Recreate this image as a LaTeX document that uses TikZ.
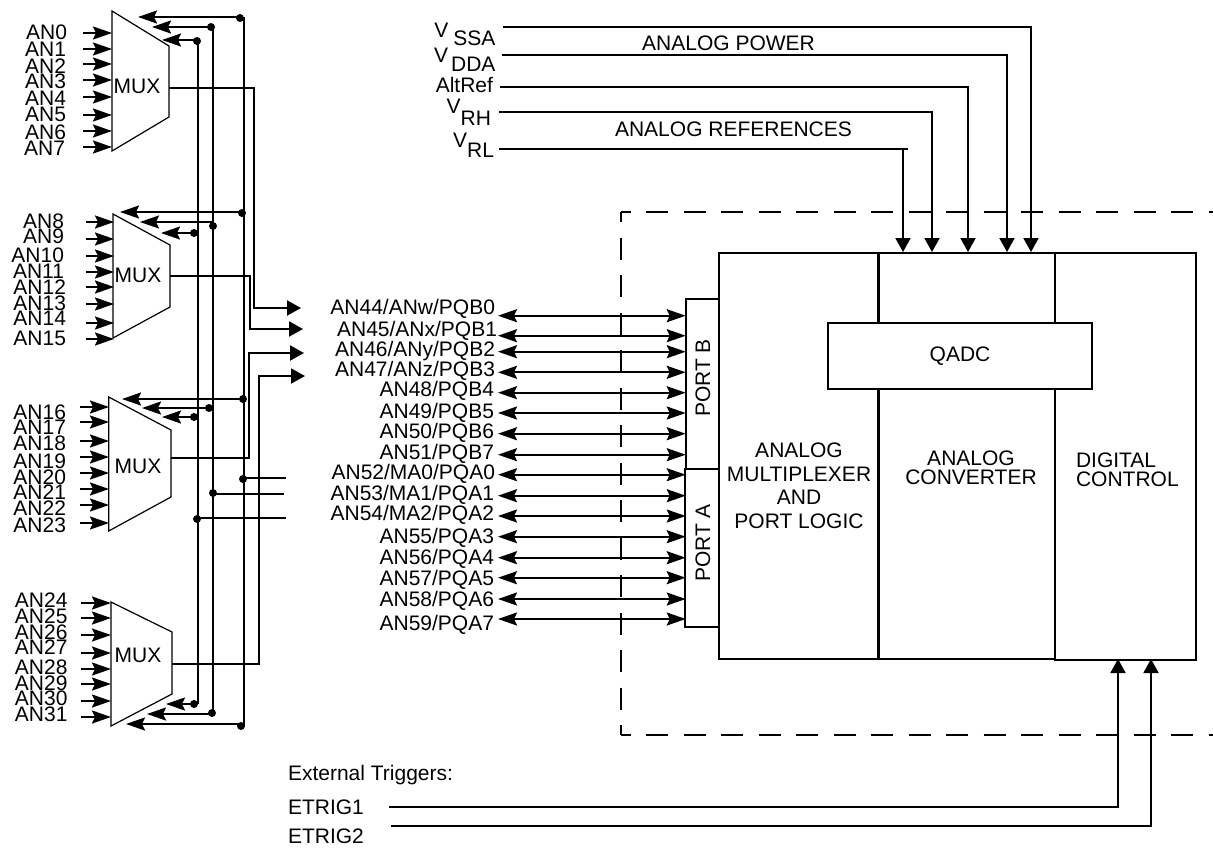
\documentclass[tikz,border=0pt]{standalone}
\usepackage{fontspec}
\setmainfont{Liberation Sans}
\usetikzlibrary{arrows.meta}
\tikzset{
  wire/.style={line width=2pt},
  arr/.style={wire,-{Triangle[length=14pt,width=15pt]}},
  sarr/.style={wire,-{Stealth[length=19pt,width=13pt,inset=3pt]}},
  barr/.style={wire,{Stealth[length=19pt,width=13pt,inset=3pt]}-{Stealth[length=19pt,width=13pt,inset=3pt]}},
  box/.style={draw,line width=2pt,fill=white,outer sep=0pt,inner sep=0pt,anchor=north west},
  lab/.style={inner sep=0pt,outer sep=0pt,font=\fontsize{21}{23.5}\selectfont},
  dot/.style={circle,fill=black,inner sep=0pt,minimum size=8pt},
  mux/.style={draw,line width=1.2pt,fill=white},
  dashline/.style={line width=2pt,dash pattern=on 22pt off 15.5pt},
}
\begin{document}
\begin{tikzpicture}[x=1pt,y=-1pt]
\useasboundingbox (0,0) rectangle (1213,847);
% dashed outline
\coordinate (dtl) at (620.5,212); \coordinate (dtr) at (1213,212);
\coordinate (dbl) at (620.5,735); \coordinate (dbr) at (1213,735);
\draw[dashline,dash phase=12pt] (dtl) -- (dtr);
\draw[dashline,dash phase=12pt] (dtl) -- (dbl);
\draw[dashline,dash phase=12pt] (dbl) -- (dbr);
% mux shapes
\draw[mux] (112,11) -- (169,46) -- (169,117) -- (112,151) -- cycle;
\draw[mux] (113,214) -- (170,245) -- (170,307) -- (113,338) -- cycle;
\draw[mux] (108.7,397) -- (171,430) -- (171,497) -- (108.7,531) -- cycle;
\draw[mux] (111,602) -- (172,632) -- (172,694) -- (111,726) -- cycle;
\node[lab] (m1) at (137,86) {MUX};
\node[lab] (m2) at (138,275) {MUX};
\node[lab] (m3) at (138,466) {MUX};
\node[lab] (m4) at (138,655) {MUX};
% mux inputs: name / label centre y / arrow y / label right / arrow start / arrow end
\foreach \n/\ty/\ay/\tx/\ax/\bx in {
AN0/32/33/67/83/112,AN1/49/49/66/83/112,AN2/66/64/66/83/112,AN3/81/80/66/83/112,AN4/98/97/66/83/112,AN5/114/115/66/83/112,AN6/132/131/66/83/112,AN7/148/147/65/83/112,
AN8/221/222/64/86/114,AN9/236/239/64/86/114,AN10/255/256/64/86/114,AN11/271/272/64/86/114,AN12/287/287/66/86/114,AN13/303/304/66/86/114,AN14/318/323/66/86/114,AN15/338/339/66/86/114,
AN16/412/407/66/80/109,AN17/427/422/66/80/109,AN18/443/441/66/80/109,AN19/461/457/66/80/109,AN20/477/473/66/80/109,AN21/492/489/66/80/109,AN22/508/505/66/80/109,AN23/525/523/66/80/109,
AN24/600/603/67.5/81/111,AN25/616/618/67.5/81/111,AN26/632/635/67.5/81/111,AN27/647/653/67.5/81/111,AN28/667/669/67.5/81/111,AN29/683/684/67.5/81/111,AN30/698/701/67.5/81/111,AN31/714/717/67.5/81/111}{
  \node[lab,anchor=base east] (\n) at (\tx,\ty+7.5) {\n};
  \coordinate (s\n) at (\ax,\ay);
  \coordinate (e\n) at (\bx,\ay);
  \draw[sarr] (s\n) -- (e\n);
}
% vertical bus lines
\coordinate (b1t) at (198,41); \coordinate (b1b) at (198,704);
\coordinate (b2t) at (213,27); \coordinate (b2b) at (213,714);
\coordinate (b3t) at (244,17); \coordinate (b3b) at (244,726);
\draw[wire] (b1t) -- (b1b);
\draw[wire] (b2t) -- (b2b);
\draw[wire] (b3t) -- (b3b);
% select taps: name / dot x / dot y / line y / tip x
\foreach \nm/\x/\y/\ly/\tip in {
a1/197/41/40/162,a2/211/27/27/152,a3/240/18/17/138,
b1/194/233/233/161,b2/213/226/222/140,b3/242/213/212/120,
c1/194/417/417/162,c2/209/408/408/142,c3/243/399/399/122,
d1/194/704/704/166,d2/212/713/714/147,d3/241/726/724/126}{
  \node[dot] (\nm) at (\x,\y) {};
  \coordinate (\nm s) at (\x,\ly);
  \coordinate (\nm t) at (\tip,\ly);
  \draw[sarr] (\nm s) -- (\nm t);
}
% stubs to the right
\node[dot] (t1) at (243,479) {};
\node[dot] (t2) at (213,493) {};
\node[dot] (t3) at (197,519) {};
\coordinate (t1s) at (243,478); \coordinate (t2s) at (213,494); \coordinate (t3s) at (197,518);
\coordinate (t1e) at (286,478); \coordinate (t2e) at (284,494); \coordinate (t3e) at (286,518);
\draw[wire] (t1s) -- (t1e);
\draw[wire] (t2s) -- (t2e);
\draw[wire] (t3s) -- (t3e);
% mux outputs
\coordinate (o1) at (169,88); \coordinate (o2) at (170,276); \coordinate (o3) at (171,458); \coordinate (o4) at (172,664);
\coordinate (p1) at (301,308); \coordinate (p2) at (303,329); \coordinate (p3) at (304,353); \coordinate (p4) at (305,376);
\draw[arr] (o1) -- (254.3,88) -- (254.3,308) -- (p1);
\draw[arr] (o2) -- (250,276) -- (250,329) -- (p2);
\draw[arr] (o3) -- (249,458) -- (249,353) -- (p3);
\draw[arr] (o4) -- (259,664) -- (259,376) -- (p4);
% ports
\node[box,line width=1.6pt,minimum width=33pt,minimum height=170pt] (portb) at (685.7,299) {};
\node[box,line width=1.6pt,minimum width=33.7pt,minimum height=157.7pt] (porta) at (685,469) {};
\node[lab,rotate=90] (pbl) at (703,378) {PORT B};
\node[lab,rotate=90] (pal) at (703,543) {PORT A};
% QADC blocks
\node[box,minimum width=159pt,minimum height=406.5pt] (amux) at (719,252.5) {};
\node[box,minimum width=177pt,minimum height=406.5pt] (conv) at (878,252.5) {};
\node[box,minimum width=141pt,minimum height=407.5pt] (dig) at (1055,252.5) {};
\draw[line width=3pt] (conv.north west) -- (conv.south west);
\node[box,anchor=center,minimum width=264pt,minimum height=66pt,font=\fontsize{21}{23.5}\selectfont] (qadc) at (960,356) {QADC\hspace{6pt}};
\node[lab,align=center] (amuxl) at (799,486) {ANALOG\\MULTIPLEXER\\AND\\PORT LOGIC};
\node[lab,align=center] (convl) at (971,468) {ANALOG\\[-4pt]CONVERTER};
\node[lab,align=left,anchor=west] (digl) at (1076,470) {DIGITAL\\[-4pt]CONTROL};
% port pins
\foreach \n/\y in {
AN44/315.7,AN45/335.7,AN46/351.7,AN47/372.3,AN48/392.7,AN49/413,AN50/433.7,AN51/454.7,AN52/474.7,AN53/495.7,AN54/516,AN55/536.7,AN56/557.7,AN57/577.7,AN58/599,AN59/619}{
  \coordinate (l\n) at (498,\y);
  \coordinate (r\n) at (685.7,\y);
  \draw[barr] (l\n) -- (r\n);
}
\foreach \n/\t/\y/\r in {
AN44/AN44\slash ANw\slash PQB0/307/495,AN45/AN45\slash ANx\slash PQB1/329/497,AN46/AN46\slash ANy\slash PQB2/349/495,AN47/AN47\slash ANz\slash PQB3/369/495,AN48/AN48\slash PQB4/389/494,AN49/AN49\slash PQB5/411/494,AN50/AN50\slash PQB6/431/494,AN51/AN51\slash PQB7/452/494,AN52/AN52\slash MA0\slash PQA0/472/495,AN53/AN53\slash MA1\slash PQA1/493/494,AN54/AN54\slash MA2\slash PQA2/513/494,AN55/AN55\slash PQA3/536/494,AN56/AN56\slash PQA4/557/494,AN57/AN57\slash PQA5/578/494,AN58/AN58\slash PQA6/599/494,AN59/AN59\slash PQA7/623/494}{
  \node[lab,anchor=base east] (t\n) at (\r,\y+7.5) {\t};
}
% analog supplies
\node[lab,anchor=base east] (vssa) at (495.5,37) {V\hspace{5pt}\raisebox{-8pt}{SSA}};
\node[lab,anchor=base east] (vdda) at (495.5,62) {V\hspace{3pt}\raisebox{-9pt}{DDA}};
\node[lab,anchor=base east] (alt) at (493,92) {AltRef};
\node[lab,anchor=base east] (vrh) at (491,113) {V\raisebox{-12pt}{RH}};
\node[lab,anchor=base east] (vrl) at (494,147) {V\raisebox{-10pt}{RL}};
\node[lab] (pw) at (728.5,43) {ANALOG POWER};
\node[lab] (rf) at (733.5,129) {ANALOG REFERENCES};
\coordinate (vssas) at (502.5,27); \coordinate (vddas) at (502,55); \coordinate (alts) at (500,87); \coordinate (vrhs) at (499,112); \coordinate (vrls) at (499,149);
\coordinate (vssae) at (1031,252); \coordinate (vddae) at (1007,252); \coordinate (alte) at (968,252); \coordinate (vrhe) at (932,252); \coordinate (vrle) at (903,252);
\draw[arr] (vssas) -| (vssae);
\draw[arr] (vddas) -| (vddae);
\draw[arr] (alts) -| (alte);
\draw[arr] (vrhs) -| (vrhe);
\coordinate (vrlj) at (908,149); \coordinate (vrlk) at (903,149);
\draw[wire] (vrls) -- (vrlj);
\draw[arr] (vrlk) -- (vrle);
% triggers
\node[lab,anchor=base west] (ext) at (288,780) {External Triggers:};
\node[lab,anchor=base west] (e1) at (288,814) {ETRIG1};
\node[lab,anchor=base west] (e2) at (288,843.5) {ETRIG2};
\coordinate (e1s) at (389,807); \coordinate (e2s) at (391,826);
\coordinate (e1e) at (1118,659); \coordinate (e2e) at (1151,659);
\draw[arr] (e1s) -| (e1e);
\draw[arr] (e2s) -| (e2e);
\end{tikzpicture}
\end{document}
